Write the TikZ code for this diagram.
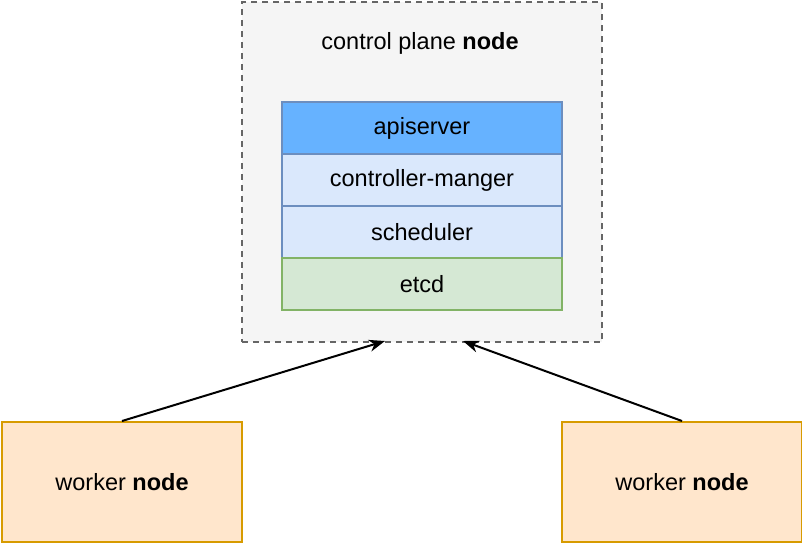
\documentclass[tikz,border=0pt]{standalone}
\usepackage{fontspec}
\setmainfont{Liberation Sans}
\usetikzlibrary{arrows.meta}
\definecolor{cpfill}{HTML}{F5F5F5}
\definecolor{cpline}{HTML}{666666}
\definecolor{apifill}{HTML}{66B2FF}
\definecolor{bluefill}{HTML}{DAE8FC}
\definecolor{blueline}{HTML}{6C8EBF}
\definecolor{greenfill}{HTML}{D5E8D4}
\definecolor{greenline}{HTML}{82B366}
\definecolor{workfill}{HTML}{FFE6CC}
\definecolor{workline}{HTML}{D79B00}
\begin{document}
\begin{tikzpicture}[x=1pt,y=-1pt,
  lbl/.style={font=\fontsize{23.5}{28}\selectfont, text=black},
  box/.style={draw, line width=2pt, inner sep=0pt, anchor=north west, lbl},
  comp/.style={box, minimum width=280pt, minimum height=52pt},
  worker/.style={box, fill=workfill, draw=workline, minimum width=240pt, minimum height=120pt},
  conn/.style={line width=2pt, -{Stealth[length=16pt,width=12pt,inset=5pt]}}
]
\useasboundingbox (0,0) rectangle (802,542);
\node[box, draw=cpline, fill=cpfill, dash pattern=on 6pt off 5pt, minimum width=360pt, minimum height=340pt] (cp) at (241,1) {};
\node[lbl] (cptitle) at (420,43) {control plane \textbf{node}};
\node[comp, fill=apifill, draw=blueline] (api) at (281,101) {apiserver};
\node[comp, fill=bluefill, draw=blueline] (cm) at (281,153) {controller-manger};
\node[comp, fill=bluefill, draw=blueline] (sch) at (281,205) {scheduler};
\node[comp, fill=greenfill, draw=greenline] (etcd) at (281,257) {etcd};
\node[worker] (w1) at (1,421) {worker \textbf{node}};
\node[worker] (w2) at (561,421) {worker \textbf{node}};
\coordinate (t1) at (385,341);
\coordinate (t2) at (463,341);
\draw[conn] (w1.north) -- (t1);
\draw[conn] (w2.north) -- (t2);
\end{tikzpicture}
\end{document}
